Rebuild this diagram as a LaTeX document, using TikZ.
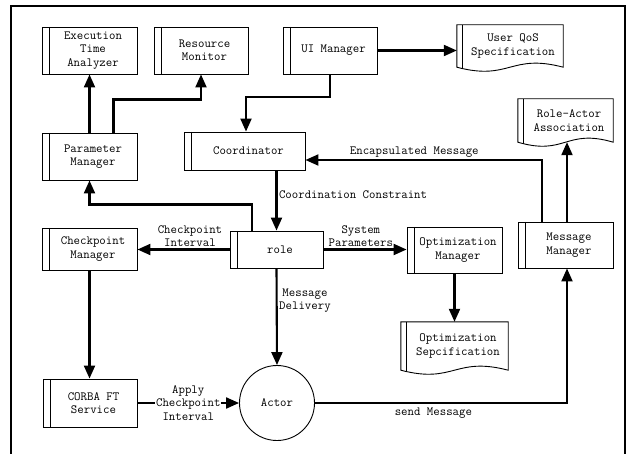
\documentclass[tikz,border=0pt]{standalone}
\usepackage{fontspec}
\usetikzlibrary{arrows.meta,calc}

% document-style box: straight top and sides, wavy bottom, inner left rule
\newcommand\docoutline[1]{%
  \draw[boxline] (#1.south west) -- (#1.north west) -- (#1.north east) -- (#1.south east)
    .. controls ($(#1.south)+(0,-14)$) and ($(#1.south)+(0,14)$) .. (#1.south west) -- cycle;
  \draw[boxline] ([xshift=6pt]#1.north west) -- ([xshift=6pt,yshift=-2pt]#1.south west);
}

\begin{document}
\begin{tikzpicture}[x=1pt,y=-1pt,
  every node/.style={font=\ttfamily\fontsize{12.5}{13.3}\selectfont},
  boxline/.style={line width=0.9pt},
  proc/.style={draw, boxline, rectangle, inner sep=0pt,
    path picture={\draw[boxline] ([xshift=7pt]path picture bounding box.north west)
      -- ([xshift=7pt]path picture bounding box.south west);}},
  docbox/.style={rectangle, inner sep=0pt},
  txt/.style={align=center, inner sep=0pt},
  lab/.style={align=center, inner sep=1.5pt},
  arr/.style={line width=2.1pt, -{Triangle[length=13pt,width=11pt]}},
  frameline/.style={line width=1.3pt}]

\useasboundingbox (0,0) rectangle (631,454);
\fill[white] (0,0) rectangle (631,454);
\draw[frameline] (11,454) -- (11,6) -- (625,6) -- (625,454);

% process boxes
\node[proc, minimum width=95pt, minimum height=47pt,
  label={[txt,xshift=3.5pt]center:Execution\\Time\\Analyzer}] (eta) at (89.5,50.5) {};
\node[proc, minimum width=94pt, minimum height=47pt,
  label={[txt,xshift=3.5pt]center:Resource\\Monitor}] (rm) at (201,50.5) {};
\node[proc, minimum width=94pt, minimum height=47pt,
  label={[txt,xshift=3.5pt]center:UI Manager}] (ui) at (330,50.5) {};
\node[proc, minimum width=95pt, minimum height=47pt,
  label={[txt,xshift=3.5pt]center:Parameter\\Manager}] (pm) at (89.5,156.5) {};
\node[proc, minimum width=121pt, minimum height=38pt,
  label={[txt,xshift=4pt]center:Coordinator}] (coord) at (244.5,151) {};
\node[proc, minimum width=95pt, minimum height=42pt,
  label={[txt,xshift=3.5pt]center:Checkpoint\\Manager}] (cm) at (89.5,249) {};
\node[proc, minimum width=93pt, minimum height=37pt,
  label={[txt,xshift=3.5pt]center:role}] (role) at (276.5,249.5) {};
\node[proc, minimum width=95pt, minimum height=46pt,
  label={[txt,xshift=3.5pt]center:Optimization\\Manager}] (om) at (454.5,250) {};
\node[proc, minimum width=95pt, minimum height=46pt,
  label={[txt,xshift=3.5pt]center:Message\\Manager}] (mm) at (565.5,245) {};
\node[proc, minimum width=94pt, minimum height=48pt,
  label={[txt,xshift=3.5pt]center:CORBA FT\\Service}] (corba) at (90,403) {};
\node[draw, boxline, circle, minimum size=75pt, inner sep=0pt] (actor) at (277,403) {Actor};

% document boxes
\node[docbox, minimum width=106pt, minimum height=42pt,
  label={[txt,xshift=3pt]center:User QoS\\Specification}] (qos) at (510,46) {};
\node[docbox, minimum width=95pt, minimum height=43pt,
  label={[txt,xshift=3.5pt]center:Role-Actor\\Association}] (ra) at (565.5,120.5) {};
\node[docbox, minimum width=107pt, minimum height=48pt,
  label={[txt,xshift=3.5pt]center:Optimization\\Sepcification}] (os) at (454.5,346) {};
\docoutline{qos}
\docoutline{ra}
\docoutline{os}

% connectors
\draw[arr] (pm.north) -- (eta.south);
\draw[arr] ([xshift=24pt]pm.north) -- ++(0,-33) -| (rm.south);
\draw[arr] (ui.south) -- ++(0,23) -| ([xshift=1.5pt]coord.north);
\draw[arr] (ui.east) -- (ui.east -| qos.west);
\draw[arr] (coord.south -| role.north) -- node[lab, right, pos=0.4] {Coordination Constraint} (role.north);
\draw[arr] ([xshift=-24.5pt]role.north) -- ++(0,-26) -| (pm.south);
\draw[arr] (role.west) -- node[lab, above, pos=0.43] {Checkpoint\\Interval} (role.west -| cm.east);
\draw[arr] (role.east) -- node[lab, above, pos=0.45] {System\\Parameters} (role.east -| om.west);
\draw[arr] (role.south) -- node[lab, right, pos=0.33] {Message\\Delivery} (actor.north);
\draw[arr] (cm.south) -- (cm.south |- corba.north);
\draw[arr] (corba.east) -- node[lab, fill=white, inner sep=1pt, pos=0.5] {Apply\\Checkpoint\\Interval} (actor.west);
\draw[arr] (actor.east) -| node[lab, below, pos=0.235, yshift=-2pt] {send Message} ([xshift=1.5pt]mm.south);
\draw[arr] (om.south) -- (om.south |- os.north);
\draw[arr] ([xshift=-23.5pt]mm.north) |- node[lab, above, pos=0.77] {Encapsulated Message} ([yshift=-9pt]coord.east);
\draw[arr] ([xshift=1.5pt]mm.north) -- ([xshift=1.5pt]ra.south);

\end{tikzpicture}
\end{document}
